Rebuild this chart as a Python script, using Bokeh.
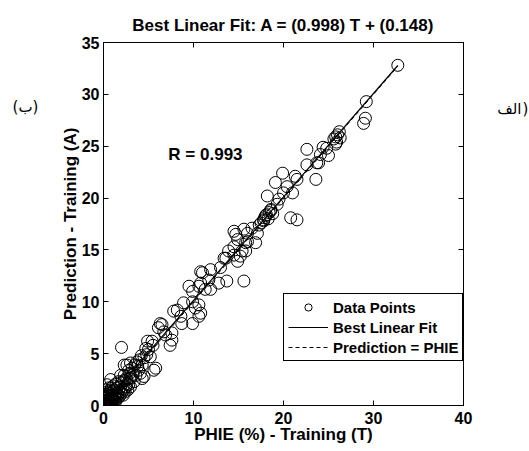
from bokeh.plotting import figure
from bokeh.layouts import row
from bokeh.models import (Label, LinearAxis, Range1d, FixedTicker, Legend, LegendItem,
                          CustomJSTickFormatter)
from bokeh.embed import file_html
from bokeh.resources import INLINE

# ---- data ----
target = [
    32.7, 29.2, 29.1, 28.9,
    26.0, 25.8, 26.2, 25.6, 25.9, 26.3, 25.8, 24.8, 24.1, 22.6, 22.6, 23.9, 25.0,
    24.4, 23.7, 19.9, 21.3, 21.5, 23.6, 19.1, 20.4, 18.2, 20.0, 19.5, 21.0, 19.3, 18.6,
    18.4, 18.0, 18.6, 17.8, 18.3, 17.5, 18.8, 18.1, 17.9,
    20.8, 21.5, 17.3, 17.8, 16.5, 15.6, 17.1, 14.5, 14.9, 16.0, 14.5, 15.8, 13.9, 15.2, 13.4, 10.8, 11.9, 13.0,
    14.7, 16.0, 16.9, 15.8, 15.4, 14.5, 13.6, 14.9, 15.6, 13.7, 12.8, 11.0, 11.7, 10.8, 9.5, 10.6, 11.3, 11.9,
    9.9, 8.9, 9.9, 10.6, 10.2, 8.2, 7.8, 10.8, 8.6, 10.6, 8.7, 9.9, 6.3, 6.1, 6.7, 7.6,
    6.5, 6.9, 7.6, 7.4, 5.4, 4.9, 4.7, 5.0, 5.2, 4.5, 2.0, 5.8, 5.6, 4.3, 3.7, 3.0, 2.6, 2.3, 3.2, 3.9,
    4.5, 4.3, 2.3, 1.9, 3.4, 2.6, 3.0, 2.3, 1.9, 0.8, 0.4, 0.2,
    3.5, 4.0, 2.8, 3.3, 3.8, 2.5, 4.1, 3.6, 2.9, 4.8, 5.5, 4.2,
    0.0, 0.1, 0.1, 0.2, 0.3, 0.2, 0.3, 0.4, 0.5, 0.4, 0.5, 0.6, 0.7, 0.3, 0.6, 0.8, 0.9, 1.0,
    0.7, 0.5, 0.9, 1.1, 1.2, 1.0, 0.8, 1.3, 1.4, 1.5, 1.2, 1.6, 1.7, 1.8, 1.5, 2.0, 2.1, 1.9,
    2.2, 2.4, 2.5, 2.7, 2.0, 2.8, 2.6, 0.1, 0.2, 0.0, 0.1, 0.3, 0.6, 0.4, 0.2, 0.4, 0.6, 0.8,
    1.0, 1.2, 1.4, 1.6, 0.9, 1.3, 0.7, 0.5, 0.3, 1.1, 1.4, 0.9, 1.7, 2.3, 3.1, 2.9,
]
prediction = [
    32.8, 29.3, 27.7, 27.2,
    26.1, 25.9, 26.4, 25.7, 25.4, 25.8, 25.2, 24.8, 24.2, 24.7, 23.2, 23.4, 24.1,
    24.9, 23.4, 22.4, 22.1, 21.8, 21.8, 21.5, 21.1, 20.2, 20.5, 19.9, 20.5, 19.4, 18.9,
    18.6, 18.3, 18.8, 17.9, 18.0, 17.6, 18.5, 18.4, 18.1,
    18.1, 17.9, 17.4, 17.8, 17.1, 17.0, 16.6, 16.8, 16.0, 15.8, 15.3, 14.9, 14.9, 14.4, 14.2, 12.9, 13.1, 13.3,
    16.5, 16.6, 15.7, 15.7, 14.9, 14.5, 14.2, 13.9, 12.0, 12.0, 11.8, 12.8, 12.1, 11.8, 11.5, 11.5, 11.2, 11.2,
    11.0, 9.9, 10.0, 9.7, 9.4, 9.2, 9.1, 8.9, 8.6, 8.6, 7.9, 7.9, 7.9, 7.5, 7.1, 7.0,
    7.8, 6.8, 6.3, 5.8, 6.2, 6.2, 5.5, 5.4, 4.7, 4.6, 5.6, 3.6, 3.4, 3.9, 4.2, 4.1, 3.9, 3.9, 3.6, 3.4,
    2.8, 2.6, 2.9, 2.9, 2.3, 2.1, 1.8, 1.5, 1.3, 2.5, 2.0, 1.5,
    3.9, 4.4, 3.4, 3.0, 3.8, 2.6, 3.1, 2.9, 2.6, 4.9, 5.8, 4.8,
    0.1, 0.0, 0.3, 0.2, 0.1, 0.5, 0.4, 0.3, 0.2, 0.7, 0.6, 0.4, 0.5, 0.8, 0.9, 0.7, 0.5, 0.8,
    1.1, 1.2, 1.0, 0.6, 0.9, 1.3, 1.5, 1.1, 0.8, 1.2, 1.5, 1.0, 1.4, 0.9, 1.7, 1.2, 1.6, 1.8,
    1.0, 1.3, 1.8, 1.5, 2.2, 2.0, 2.5, 0.9, 1.1, 0.5, 0.7, 1.3, 1.7, 1.0, 0.0, 0.1, 0.2, 0.3,
    0.4, 0.5, 0.6, 0.7, 0.2, 0.3, 0.0, 0.0, 0.0, 1.9, 2.1, 1.7, 2.3, 2.4, 2.7, 3.1,
]
fit_slope = 0.998
fit_intercept = 0.148
r_value = 0.993
x_ticks = [0, 10, 20, 30, 40]
y_ticks = [0, 5, 10, 15, 20, 25, 30, 35]
panel_left_text = "(ب)"
panel_right_word = "الف"
panel_right_paren = ")"

FONT = "Liberation Sans"
H = 451

p = figure(width=430, height=H, output_backend="svg", toolbar_location=None,
           x_range=Range1d(0, 40), y_range=Range1d(0, 35),
           min_border_left=53, min_border_right=17, min_border_top=42, min_border_bottom=46,
           title="Best Linear Fit: A = (%.3f) T + (%.3f)" % (fit_slope, fit_intercept))
p.title.align = "center"
p.title.text_font = FONT
p.title.text_font_style = "bold"
p.title.text_font_size = "17px"
p.title.text_color = "black"
p.title.standoff = 15
p.grid.visible = False
p.outline_line_color = "black"
p.outline_line_alpha = 1.0
p.outline_line_width = 1
p.background_fill_color = "white"
p.border_fill_color = "white"

for ax in (p.xaxis[0], p.yaxis[0]):
    ax.major_tick_in = 5
    ax.major_tick_out = 0
    ax.minor_tick_line_color = None
    ax.axis_line_color = "black"
    ax.major_tick_line_color = "black"
    ax.major_label_text_font = FONT
    ax.major_label_text_font_style = "bold"
    ax.major_label_text_font_size = "16px"
    ax.major_label_text_color = "black"
    ax.axis_label_text_font = FONT
    ax.axis_label_text_font_style = "bold"
    ax.axis_label_text_font_size = "17px"
    ax.axis_label_text_color = "black"
p.xaxis[0].ticker = FixedTicker(ticks=x_ticks)
p.yaxis[0].ticker = FixedTicker(ticks=y_ticks)
p.xaxis[0].major_label_standoff = 6
p.xaxis[0].axis_label = "PHIE (%) - Training (T)"
p.xaxis[0].axis_label_standoff = -2
p.yaxis[0].major_label_standoff = 4
p.yaxis[0].axis_label = "Prediction - Training (A)"
p.yaxis[0].axis_label_standoff = -1

blank = CustomJSTickFormatter(code="return ''")
top_ax = LinearAxis(ticker=FixedTicker(ticks=x_ticks), formatter=blank,
                    major_tick_in=5, major_tick_out=0, minor_tick_line_color=None,
                    major_label_text_font_size="1px", major_label_standoff=0)
right_ax = LinearAxis(ticker=FixedTicker(ticks=y_ticks), formatter=blank,
                      major_tick_in=5, major_tick_out=0, minor_tick_line_color=None,
                      major_label_text_font_size="1px", major_label_standoff=0)
p.add_layout(top_ax, "above")
p.add_layout(right_ax, "right")

# data points
pts = p.scatter(target, prediction, marker="circle", size=12, fill_color=None,
                line_color="black", line_width=1)

# best linear fit and identity line over the range of the targets
x0, x1 = min(target), max(target)
fit = p.line([x0, x1], [fit_slope * x0 + fit_intercept, fit_slope * x1 + fit_intercept],
             line_color="black", line_width=1.2)
ident = p.line([x0, x1], [x0, x1], line_color="black", line_width=1, line_dash="4 3")

legend = Legend(items=[LegendItem(label="Data Points", renderers=[pts]),
                       LegendItem(label="Best Linear Fit", renderers=[fit]),
                       LegendItem(label="Prediction = PHIE", renderers=[ident])],
                location=(180, 44), orientation="vertical",
                label_text_font=FONT, label_text_font_style="bold",
                label_text_font_size="15px", label_text_color="black",
                padding=4, spacing=2, glyph_height=18, label_height=18,
                glyph_width=40, label_standoff=5, margin=0,
                border_line_color="black", border_line_width=1, border_line_alpha=1,
                background_fill_color="white", background_fill_alpha=1)
p.add_layout(legend, "center")

p.add_layout(Label(x=11.33, y=24.2, text="R = %.3f" % r_value,
                   text_align="center", text_baseline="middle", text_font=FONT,
                   text_font_style="bold", text_font_size="17px", text_color="black"))


def side_panel(width):
    f = figure(width=width, height=H, output_backend="svg", toolbar_location=None,
               x_range=Range1d(0, width), y_range=Range1d(0, H),
               x_axis_type=None, y_axis_type=None, min_border=0)
    f.grid.visible = False
    f.outline_line_color = None
    f.background_fill_color = "white"
    f.border_fill_color = "white"
    return f


def arabic_label(x, y, text, align):
    return Label(x=x, y=y, text=text, text_align=align, text_baseline="middle",
                 text_font="DejaVu Sans", text_font_size="15px", text_color="black")


left = side_panel(50)
left.add_layout(arabic_label(25, H - 80, panel_left_text, "center"))

right = side_panel(49)
right.add_layout(arabic_label(41, H - 82, panel_right_word, "right"))
right.add_layout(arabic_label(42, H - 82, panel_right_paren, "left"))

layout = row(left, p, right, spacing=0)
open("out.html", "w").write(file_html(layout, INLINE))
